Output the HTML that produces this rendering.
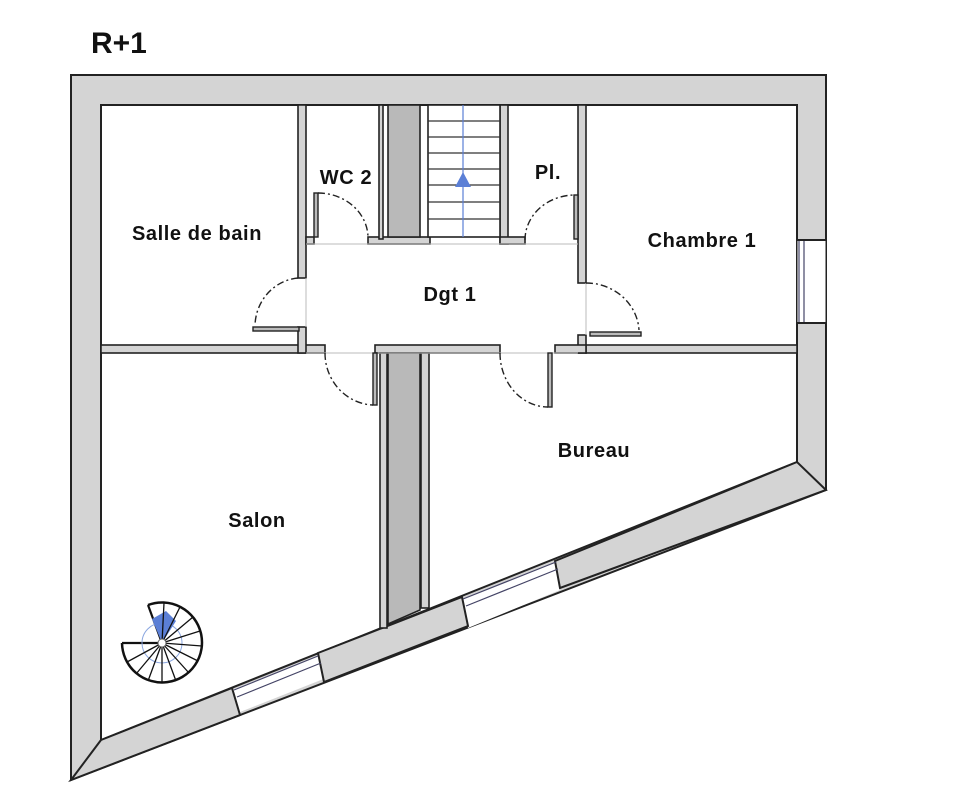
<!DOCTYPE html>
<html><head><meta charset="utf-8"><style>
html,body{margin:0;padding:0;background:#fff;}
svg{display:block;}
text{font-family:"Liberation Sans",sans-serif;font-weight:bold;fill:#111;}
</style></head><body>
<svg width="957" height="800" viewBox="0 0 957 800" xmlns="http://www.w3.org/2000/svg">
<text x="91" y="53" font-size="30">R+1</text>
<!-- outer walls -->
<polygon points="71,75 826,75 826,490 71,780" fill="#d4d4d4" stroke="#222" stroke-width="2"/>
<polygon points="101,105 797,105 797,462 101,740" fill="#fff" stroke="#222" stroke-width="2"/>
<!-- right window -->
<rect x="797.5" y="240" width="28" height="83" fill="#fff"/>
<line x1="799" y1="240" x2="799" y2="323" stroke="#446" stroke-width="1.2"/>
<line x1="804" y1="240" x2="804" y2="323" stroke="#446" stroke-width="1.2"/>
<line x1="797" y1="240" x2="826" y2="240" stroke="#222" stroke-width="2"/>
<line x1="797" y1="323" x2="826" y2="323" stroke="#222" stroke-width="2"/>
<!-- diagonal windows -->
<polygon points="232,703 318,668 318,656 232,690" fill="#fff"/>
<polygon points="232,694 240,712 326,678 318,656" fill="#fff"/>
<polygon points="462,599 468,628 560,590 555,563" fill="#fff"/>
<g stroke="#222" stroke-width="2" fill="#d4d4d4">
<polygon points="101,740 232,688 240,715 71,780"/>
<polygon points="318,653 462,597 468,626 324,682"/>
<polygon points="555,561 797,462 826,490 560,588"/>
</g>
<g stroke="#446" stroke-width="1.2">
<line x1="234" y1="690" x2="318" y2="656"/><line x1="237" y1="697" x2="321" y2="663"/>
<line x1="463" y1="599" x2="556" y2="562"/><line x1="466" y1="606" x2="558" y2="569"/>
</g>
<!-- interior walls -->
<g fill="#d4d4d4" stroke="#222" stroke-width="1.6">
<rect x="101" y="345" width="224" height="8"/>
<rect x="298" y="105" width="8" height="173"/>
<rect x="298" y="327" width="8" height="26"/>
<rect x="306" y="237" width="8" height="7"/>
<rect x="368" y="237" width="62" height="7"/>
<rect x="379" y="105" width="4" height="134"/>
<rect x="500" y="105" width="8" height="139"/>
<rect x="500" y="237" width="25" height="7"/>
<rect x="578" y="105" width="8" height="178"/>
<rect x="578" y="335" width="8" height="18"/>
<rect x="586" y="345" width="211" height="8"/>
<rect x="555" y="345" width="31" height="8"/>
<rect x="375" y="345" width="125" height="8"/>
<rect x="380" y="353" width="7" height="275"/>
<rect x="421" y="353" width="8" height="255"/>
</g>
<rect x="388" y="105" width="32" height="132" fill="#b9b9b9" stroke="#222" stroke-width="1.6"/>
<polygon points="388,353 420,353 420,610 388,624" fill="#b9b9b9" stroke="#222" stroke-width="1.6"/>
<!-- stairs -->
<rect x="428" y="105" width="72" height="132" fill="#fff" stroke="#222" stroke-width="1.6"/>
<g stroke="#333" stroke-width="1.2">
<line x1="428" y1="121" x2="500" y2="121"/><line x1="428" y1="137" x2="500" y2="137"/>
<line x1="428" y1="153" x2="500" y2="153"/><line x1="428" y1="169" x2="500" y2="169"/>
<line x1="428" y1="185" x2="500" y2="185"/><line x1="428" y1="202" x2="500" y2="202"/>
<line x1="428" y1="219" x2="500" y2="219"/>
</g>
<line x1="463" y1="105" x2="463" y2="237" stroke="#5b7fd6" stroke-width="1.2"/>
<polygon points="463,172 455,187 471,187" fill="#5b7fd6"/>
<!-- thresholds -->
<g stroke="#bbb" stroke-width="1">
<line x1="306" y1="244" x2="578" y2="244"/>
<line x1="306" y1="353" x2="578" y2="353"/>
<line x1="306" y1="278" x2="306" y2="327"/>
<line x1="586" y1="283" x2="586" y2="335"/>
</g>
<!-- doors -->
<g fill="#bbb" stroke="#222" stroke-width="1.4">
<rect x="314" y="193" width="4" height="44"/>
<rect x="574" y="195" width="4" height="44"/>
<rect x="253" y="327" width="46" height="4"/>
<rect x="590" y="332" width="51" height="4"/>
<rect x="373" y="353" width="4" height="52"/>
<rect x="548" y="353" width="4" height="54"/>
</g>
<g fill="none" stroke="#222" stroke-width="1.4" stroke-dasharray="7,3,2,3">
<path d="M318,193 A50,45 0 0 1 368,237"/>
<path d="M525,240 A50,45 0 0 1 574,195"/>
<path d="M298,278 A47,49 0 0 0 255,325"/>
<path d="M586,283 A53,50 0 0 1 639,330"/>
<path d="M325,353 A50,52 0 0 0 373,405"/>
<path d="M500,353 A48,54 0 0 0 548,407"/>
</g>
<!-- spiral stair -->
<g transform="translate(162,643)">
<path d="M-14,-38 L0,0 L-40,0" fill="none" stroke="#111" stroke-width="2.2"/>
<path d="M-14,-38 A40,40 0 1 1 -40,0" fill="none" stroke="#111" stroke-width="2.5"/>
<circle r="20" fill="none" stroke="#8aa6e0" stroke-width="1"/>
<polygon points="0,0 -10,-24 4,-32 14,-22" fill="#5b7fd6"/>
<g stroke="#111" stroke-width="1.3">
<line x1="0" y1="0" x2="2" y2="-40"/><line x1="0" y1="0" x2="18" y2="-36"/>
<line x1="0" y1="0" x2="31" y2="-26"/><line x1="0" y1="0" x2="38" y2="-12"/>
<line x1="0" y1="0" x2="40" y2="3"/><line x1="0" y1="0" x2="36" y2="18"/>
<line x1="0" y1="0" x2="27" y2="30"/><line x1="0" y1="0" x2="14" y2="38"/>
<line x1="0" y1="0" x2="0" y2="40"/><line x1="0" y1="0" x2="-14" y2="38"/>
<line x1="0" y1="0" x2="-26" y2="31"/><line x1="0" y1="0" x2="-35" y2="19"/>
</g>
<circle r="4" fill="#fff" stroke="#666" stroke-width="1"/>
</g>
<!-- labels -->
<g font-size="20" text-anchor="middle" letter-spacing="0.6">
<text x="346" y="184">WC 2</text>
<text x="548" y="179">Pl.</text>
<text x="197" y="240">Salle de bain</text>
<text x="702" y="247">Chambre 1</text>
<text x="450" y="301">Dgt 1</text>
<text x="594" y="457">Bureau</text>
<text x="257" y="527">Salon</text>
</g>
</svg>
</body></html>
